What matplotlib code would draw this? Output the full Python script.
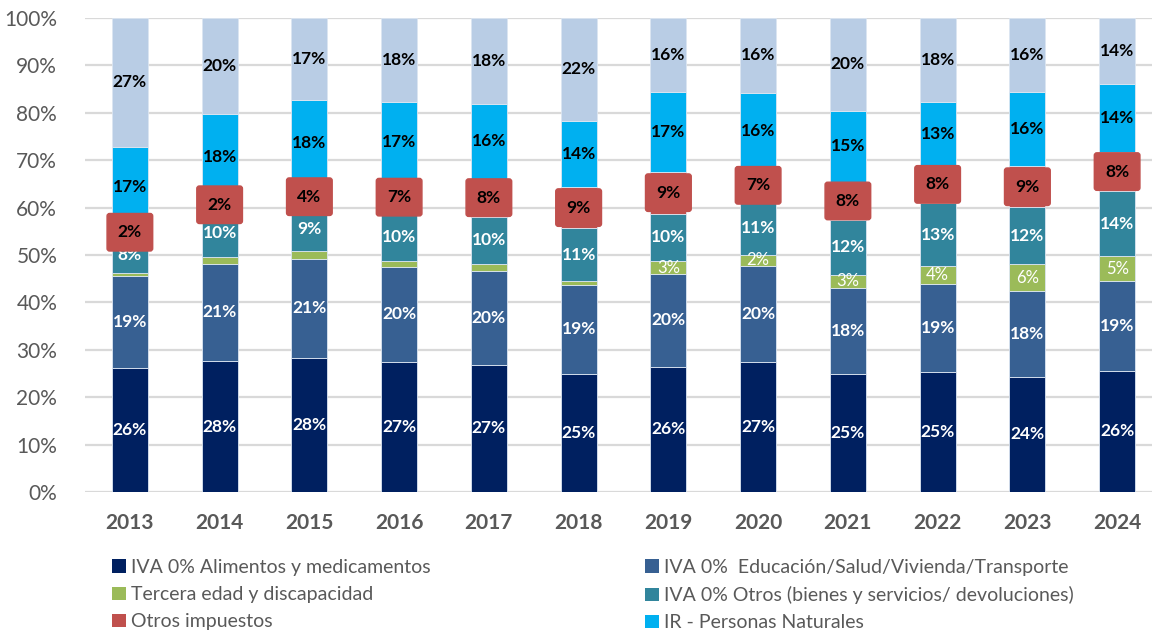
import matplotlib
matplotlib.use("Agg")
import matplotlib.pyplot as plt
import numpy as np

plt.rcParams['font.family'] = ['Lato', 'DejaVu Sans']

years = ["2013", "2014", "2015", "2016", "2017", "2018",
         "2019", "2020", "2021", "2022", "2023", "2024"]

# shares in %
alimentos = [26.2, 27.6, 28.3, 27.4, 26.8, 24.9, 26.4, 27.4, 24.9, 25.3, 24.3, 25.6]
educacion = [19.4, 20.6, 20.9, 20.1, 19.8, 18.8, 19.6, 20.3, 18.2, 18.6, 18.0, 19.0]
tercera = [0.7, 1.4, 1.6, 1.2, 1.5, 0.9, 2.7, 2.3, 2.7, 3.8, 5.8, 5.1]
iva_otros = [7.5, 10.0, 9.4, 10.2, 10.0, 11.0, 10.0, 11.2, 11.6, 13.2, 12.0, 13.8]
otros_imp = [2.0, 2.0, 4.2, 6.6, 8.0, 8.8, 8.9, 7.0, 8.0, 8.0, 8.6, 8.2]
ir_pn = [17.0, 18.2, 18.3, 16.8, 15.8, 13.9, 16.8, 16.0, 15.0, 13.4, 15.6, 14.3]

stack = [alimentos, educacion, tercera, iva_otros, otros_imp, ir_pn]
resto = [100 - sum(v) for v in zip(*stack)]

names = ["IVA 0% Alimentos y medicamentos",
         "IVA 0%  Educación/Salud/Vivienda/Transporte",
         "Tercera edad y discapacidad",
         "IVA 0% Otros (bienes y servicios/ devoluciones)",
         "Otros impuestos",
         "IR - Personas Naturales",
         None]
colors = ["#002060", "#376092", "#9BBB59", "#31859C", "#C0504D", "#00B0F0", "#B9CDE5"]
label_colors = ["white", "white", "white", "white", "black", "black", "black"]

fig = plt.figure(figsize=(11.52, 6.3), dpi=100)
ax = fig.add_axes([85 / 1152, 138 / 630, 1077 / 1152, 474 / 630])

x = np.arange(len(years))
bottom = np.zeros(len(years))
bars = []
for i, vals in enumerate(stack + [resto]):
    vals = np.array(vals)
    b = ax.bar(x, vals, 0.4, bottom=bottom, color=colors[i],
               edgecolor="#DCE6F2", linewidth=0.6, zorder=2)
    bars.append(b)
    for xi, v, b0 in zip(x, vals, bottom):
        yc = b0 + v / 2
        txt = f"{v:.0f}%"
        if i == 2:
            if v >= 2:
                ax.text(xi, yc, txt, ha="center", va="center", color="white",
                        fontsize=12, zorder=4)
        elif i == 4:
            ax.text(xi, yc, txt, ha="center", va="center", color="black",
                    fontsize=12.5, fontweight="bold", zorder=5,
                    bbox=dict(boxstyle="round,pad=0.62,rounding_size=0.15",
                              fc=colors[4], ec=colors[4]))
        else:
            ax.text(xi, yc, txt, ha="center", va="center", color=label_colors[i],
                    fontsize=12.5, fontweight="bold", zorder=4)
    bottom += vals

ax.set_xlim(-0.5, len(years) - 0.5)
ax.set_ylim(0, 100)
ax.set_yticks(np.arange(0, 101, 10))
ax.set_yticklabels([f"{t}%" for t in range(0, 101, 10)])
ax.set_xticks(x)
ax.set_xticklabels(years, fontweight="bold")
ax.tick_params(axis="y", length=0, labelsize=15, labelcolor="#595959", pad=20)
ax.tick_params(axis="x", length=0, labelsize=15, labelcolor="#595959", pad=15)
ax.grid(axis="y", color="#D9D9D9", linewidth=1.6, zorder=0)
ax.set_axisbelow(True)
for s in ax.spines.values():
    s.set_visible(False)

kw = dict(frameon=False, fontsize=14, handlelength=0.7, handleheight=0.7,
          handletextpad=0.3, labelspacing=0.52, labelcolor="#595959",
          loc="upper left", borderaxespad=0, borderpad=0)
leg1 = fig.legend([bars[0], bars[2], bars[4]], [names[0], names[2], names[4]],
                  bbox_to_anchor=(112 / 1152, 1 - 559 / 630), **kw)
leg2 = fig.legend([bars[1], bars[3], bars[5]], [names[1], names[3], names[5]],
                  bbox_to_anchor=(645 / 1152, 1 - 559 / 630), **kw)
for leg in (leg1, leg2):
    for h in leg.legend_handles:
        h.set_edgecolor("none")

fig.savefig("out.png", dpi=100, facecolor="white")
